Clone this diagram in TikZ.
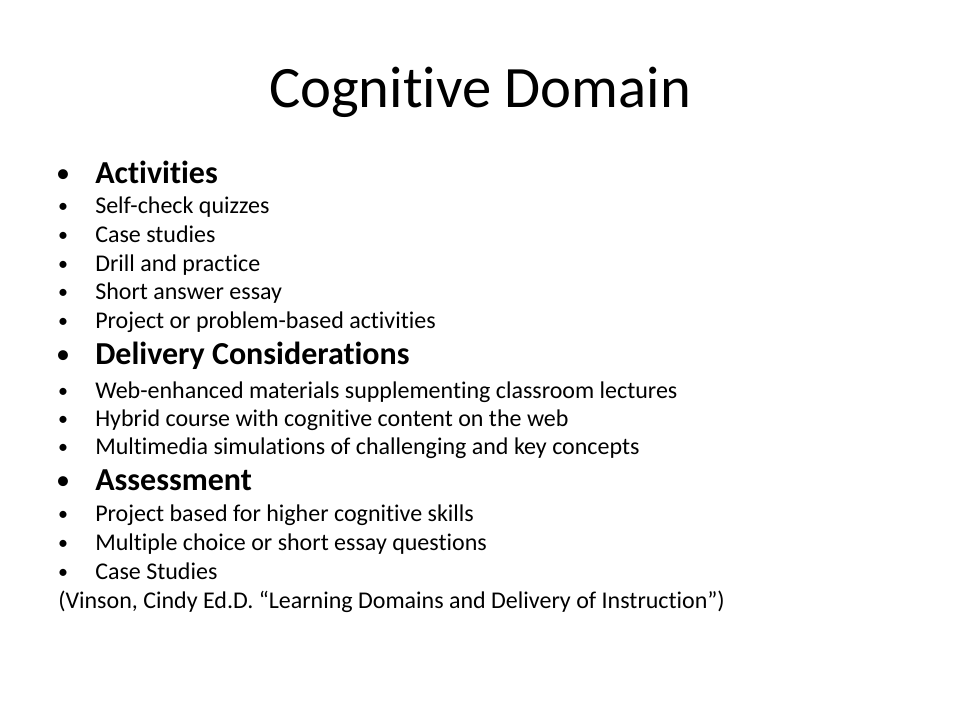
\documentclass[tikz,border=0pt]{standalone}
\usepackage{fontspec}
\setmainfont{Carlito}[Ligatures=NoCommon]
\usetikzlibrary{positioning}

\tikzset{
  title/.style={anchor=base,inner sep=0pt,font=\fontsize{44}{48}\selectfont},
  head/.style={anchor=base west,inner sep=0pt,font=\fontsize{24}{28}\selectfont\bfseries},
  item/.style={anchor=base west,inner sep=0pt,font=\fontsize{18}{22}\selectfont},
  bighit/.style={anchor=base,inner sep=0pt,font=\fontsize{21}{24}\selectfont},
  smallhit/.style={anchor=base,inner sep=0pt,font=\fontsize{15}{18}\selectfont}
}

\begin{document}
\begin{tikzpicture}[x=0.75pt,y=-0.75pt]
\fill[white] (0,0) rectangle (960,720);
\useasboundingbox (0,0) rectangle (960,720);

\node[title] (T) at (480,108) {Cognitive Domain};

\node[bighit] (b1) at (63,183) {•};
\node[head] (h1) at (95,184) {Activities};
\node[smallhit] (b11) at (63,213) {•};
\node[item] (i11) at (95,214) {Self-check quizzes};
\node[smallhit] (b12) at (63,242) {•};
\node[item] (i12) at (95,243) {Case studies};
\node[smallhit] (b13) at (63,271) {•};
\node[item] (i13) at (95,272) {Drill and practice};
\node[smallhit] (b14) at (63,299) {•};
\node[item] (i14) at (95,300) {Short answer essay};
\node[smallhit] (b15) at (63,327) {•};
\node[item] (i15) at (95,328) {Project or problem-based activities};

\node[bighit] (b2) at (63,363) {•};
\node[head] (h2) at (95,364) {Delivery Considerations};
\node[smallhit] (b21) at (63,397) {•};
\node[item] (i21) at (95,398) {Web-enhanced materials supplementing classroom lectures};
\node[smallhit] (b22) at (63,425) {•};
\node[item] (i22) at (95,426) {Hybrid course with cognitive content on the web};
\node[smallhit] (b23) at (63,453) {•};
\node[item] (i23) at (95,454) {Multimedia simulations of challenging and key concepts};

\node[bighit] (b3) at (63,489) {•};
\node[head] (h3) at (95,490) {Assessment};
\node[smallhit] (b31) at (63,520) {•};
\node[item] (i31) at (95,521) {Project based for higher cognitive skills};
\node[smallhit] (b32) at (63,549) {•};
\node[item] (i32) at (95,550) {Multiple choice or short essay questions};
\node[smallhit] (b33) at (63,578) {•};
\node[item] (i33) at (95,579) {Case Studies};

\node[item] (src) at (58,608) {(Vinson, Cindy Ed.D. “Learning Domains and Delivery of Instruction”)};
\end{tikzpicture}
\end{document}
